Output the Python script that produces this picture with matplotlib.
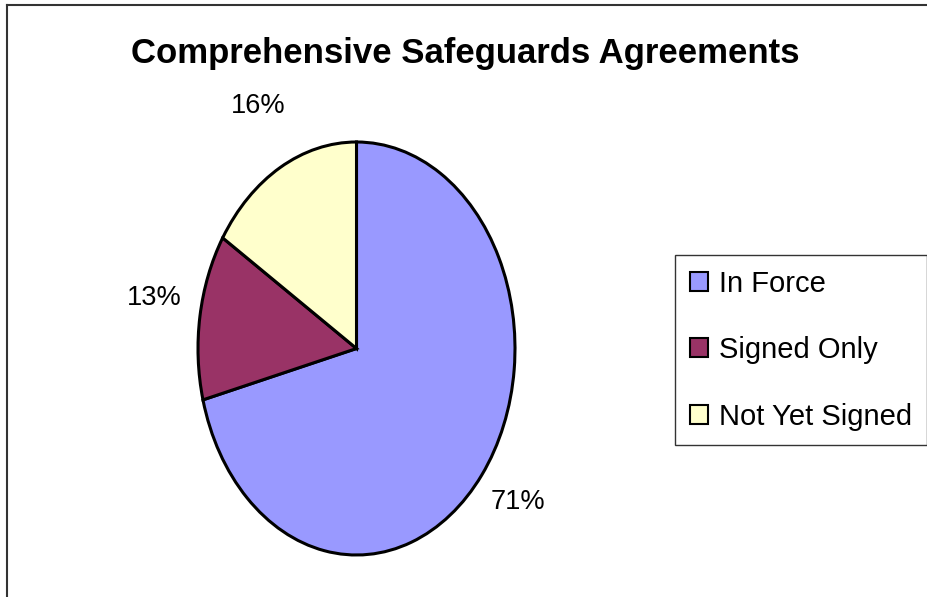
import matplotlib
matplotlib.use("Agg")
import matplotlib.pyplot as plt
from matplotlib.lines import Line2D

# data
labels = ["In Force", "Signed Only", "Not Yet Signed"]
shares = [71, 13, 16]
colors = ["#9999FF", "#993366", "#FFFFCC"]
title = "Comprehensive Safeguards Agreements"

plt.rcParams['font.family'] = ['Liberation Sans', 'DejaVu Sans']

W, H = 928, 597
fig = plt.figure(figsize=(W / 100, H / 100), dpi=100)

# pie box in pixels (ellipse, taller than wide)
px_left, px_right, px_top, px_bot = 198, 515, 142, 555
ax = fig.add_axes([px_left / W, 1 - px_bot / H, (px_right - px_left) / W, (px_bot - px_top) / H])

wedges, texts, autotexts = ax.pie(
    shares, colors=colors, startangle=90, counterclock=False,
    autopct='%1.0f%%', pctdistance=1.29,
    wedgeprops=dict(edgecolor='black', linewidth=2.2),
    textprops=dict(fontsize=19.5, color='black'),
)
ax.set_aspect('auto')
ax.set_xlim(-1, 1)
ax.set_ylim(-1, 1)
for w in wedges:
    w.set_clip_on(False)
# lift the percentage labels a little, like the original
for t in autotexts:
    x, y = t.get_position()
    t.set_position((x, y + 0.045))

# title
fig.text(465.5 / W, 1 - 54 / H, title, ha='center', va='center',
         fontsize=25, fontweight='bold')

# legend
leg = fig.legend(wedges, labels, loc='upper left',
                 bbox_to_anchor=(675 / W, 1 - 255 / H),
                 fontsize=21, frameon=True, fancybox=False,
                 edgecolor='black', handlelength=0.62, handleheight=0.62,
                 handletextpad=0.4, labelspacing=1.32, borderpad=0.5,
                 borderaxespad=0)
leg.get_frame().set_linewidth(1.0)
for h in leg.legend_handles:
    h.set_linewidth(1.5)

# outer chart frame (only top and left edges visible)
fig.add_artist(Line2D([7 / W, 7 / W], [0, 1 - 5 / H], color='#333333', lw=1.5))
fig.add_artist(Line2D([7 / W, 1], [1 - 5 / H, 1 - 5 / H], color='#333333', lw=1.5))

fig.savefig("out.png", dpi=100, facecolor='white')
